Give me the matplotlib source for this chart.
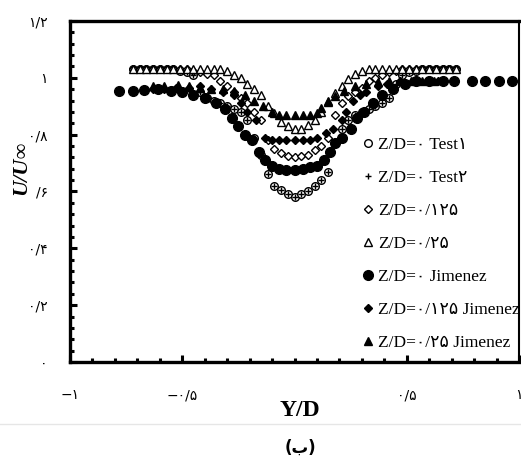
import matplotlib
matplotlib.use("Agg")
import matplotlib.pyplot as plt
from matplotlib.ticker import MultipleLocator, FixedLocator

# ---------------- data ----------------
x_exp = [-0.72, -0.69, -0.66, -0.63, -0.60, -0.57, -0.54, -0.51, -0.48, -0.45,
         -0.42, -0.39, -0.36, -0.33, -0.30, -0.27, -0.24, -0.21, -0.18, -0.15,
         -0.12, -0.09, -0.06, -0.03, 0.00, 0.03, 0.06, 0.09, 0.12, 0.15,
         0.18, 0.21, 0.24, 0.27, 0.30, 0.33, 0.36, 0.39, 0.42, 0.45,
         0.48, 0.51, 0.54, 0.57, 0.60, 0.63, 0.66, 0.69, 0.72]

y_test1 = [1.03, 1.03, 1.03, 1.03, 1.03, 1.03, 1.03, 1.025, 1.02, 1.01,
           0.95, 0.93, 0.92, 0.91, 0.90, 0.89, 0.88, 0.85, 0.79, 0.73,
           0.66, 0.62, 0.605, 0.59, 0.58, 0.59, 0.60, 0.62, 0.64, 0.67,
           0.77, 0.82, 0.85, 0.87, 0.88, 0.89, 0.90, 0.91, 0.93, 0.98,
           1.01, 1.02, 1.025, 1.03, 1.03, 1.03, 1.03, 1.03, 1.03]

y_test2 = [1.03, 1.03, 1.03, 1.03, 1.03, 1.03, 1.03, 1.025, 1.02, 1.01,
           0.95, 0.93, 0.92, 0.91, 0.90, 0.89, 0.88, 0.85, 0.79, 0.73,
           0.66, 0.62, 0.605, 0.59, 0.58, 0.59, 0.60, 0.62, 0.64, 0.67,
           0.77, 0.82, 0.85, 0.87, 0.88, 0.89, 0.90, 0.91, 0.93, 0.98,
           1.01, 1.02, 1.025, 1.03, 1.03, 1.03, 1.03, 1.03, 1.03]

y_z0125 = [1.03, 1.03, 1.03, 1.03, 1.03, 1.03, 1.03, 1.03, 1.03, 1.025,
           1.02, 1.015, 1.01, 0.99, 0.97, 0.95, 0.93, 0.91, 0.88, 0.85,
           0.78, 0.75, 0.735, 0.725, 0.72, 0.725, 0.73, 0.745, 0.76, 0.79,
           0.87, 0.91, 0.935, 0.95, 0.965, 0.99, 1.0, 1.01, 1.02, 1.025,
           1.03, 1.03, 1.03, 1.03, 1.03, 1.03, 1.03, 1.03, 1.03]

y_z025 = [1.03, 1.03, 1.03, 1.03, 1.03, 1.03, 1.03, 1.03, 1.03, 1.03,
          1.03, 1.03, 1.03, 1.03, 1.025, 1.01, 1.0, 0.98, 0.96, 0.94,
          0.90, 0.875, 0.845, 0.83, 0.82, 0.82, 0.835, 0.85, 0.88, 0.915,
          0.945, 0.97, 0.995, 1.015, 1.025, 1.03, 1.03, 1.03, 1.03, 1.03,
          1.03, 1.03, 1.03, 1.03, 1.03, 1.03, 1.03, 1.03, 1.03]

x_jim0 = [-0.78, -0.72, -0.67, -0.61, -0.55, -0.50, -0.45, -0.40, -0.35, -0.31,
          -0.28, -0.25, -0.22, -0.19, -0.16, -0.13, -0.10, -0.07, -0.04, 0.00,
          0.04, 0.07, 0.10, 0.13, 0.16, 0.18, 0.21, 0.25, 0.28, 0.31,
          0.35, 0.39, 0.44, 0.49, 0.54, 0.60, 0.66, 0.71, 0.79, 0.85,
          0.91, 0.97]
y_jim0 = [0.955, 0.955, 0.958, 0.96, 0.955, 0.95, 0.94, 0.93, 0.91, 0.89,
          0.86, 0.83, 0.80, 0.78, 0.74, 0.71, 0.69, 0.68, 0.677, 0.677,
          0.68, 0.685, 0.69, 0.71, 0.74, 0.77, 0.79, 0.82, 0.86, 0.88,
          0.91, 0.94, 0.96, 0.98, 0.99, 0.99, 0.99, 0.99, 0.99, 0.99,
          0.99, 0.99]

x_jim0125 = [-0.63, -0.58, -0.53, -0.47, -0.42, -0.37, -0.32, -0.27, -0.24, -0.21,
             -0.17, -0.13, -0.10, -0.07, -0.04, 0.00, 0.04, 0.07, 0.10, 0.14,
             0.17, 0.21, 0.23, 0.26, 0.29, 0.32, 0.37, 0.41, 0.47, 0.53,
             0.59, 0.64]
y_jim0125 = [0.96, 0.96, 0.965, 0.965, 0.97, 0.96, 0.95, 0.94, 0.91, 0.88,
             0.85, 0.79, 0.78, 0.78, 0.78, 0.78, 0.78, 0.78, 0.79, 0.805,
             0.82, 0.85, 0.88, 0.92, 0.94, 0.95, 0.97, 0.98, 0.99, 0.99,
             0.99, 0.99]

x_jim025 = [-0.63, -0.58, -0.52, -0.47, -0.42, -0.37, -0.32, -0.27, -0.22, -0.18,
            -0.14, -0.10, -0.07, -0.04, 0.00, 0.04, 0.07, 0.10, 0.12, 0.15,
            0.18, 0.22, 0.27, 0.32, 0.37, 0.42, 0.47, 0.52, 0.57, 0.62]
y_jim025 = [0.97, 0.97, 0.975, 0.97, 0.965, 0.96, 0.96, 0.955, 0.94, 0.92,
            0.90, 0.88, 0.87, 0.87, 0.87, 0.87, 0.87, 0.875, 0.895, 0.92,
            0.935, 0.955, 0.97, 0.98, 0.985, 0.99, 0.99, 0.99, 0.99, 0.99]

labels = ["Z/D=\u0660 Test\u0661",
          "Z/D=\u0660 Test\u06F2",
          "Z/D=\u0660/\u0661\u06F2\u06F5",
          "Z/D=\u0660/\u06F2\u06F5",
          "Z/D=\u0660 Jimenez",
          "Z/D=\u0660/\u0661\u06F2\u06F5 Jimenez",
          "Z/D=\u0660/\u06F2\u06F5 Jimenez"]

xticks = [-1, -0.5, 0.5, 1]
xticklabels = ["\u2212\u0661", "\u2212\u0660/\u06F5", "\u0660/\u06F5", "\u0661"]
yticks = [0, 0.2, 0.4, 0.6, 0.8, 1.0, 1.2]
yticklabels = ["\u0660", "\u0660/\u06F2", "\u0660/\u06F4", "/\u06F6",
               "\u0660/\u06F8", "\u0661", "\u0661/\u06F2"]

# ---------------- figure ----------------
fig = plt.figure(figsize=(5.21, 4.63), dpi=100)
ax = fig.add_axes([70 / 521, 101 / 463, 449 / 521, 341 / 463])

k = dict(linestyle="none", markeredgecolor="black", markeredgewidth=1.0)
ax.plot(x_exp, y_test1, marker="o", ms=5.5, mfc="white", label=labels[0], **k)
ax.plot(x_exp, y_test2, marker="+", ms=5, color="black", label=labels[1], **k)
ax.plot(x_exp, y_z0125, marker="D", ms=4, mfc="white", label=labels[2], **k)
ax.plot(x_exp, y_z025, marker="^", ms=5.5, mfc="white", label=labels[3], **k)
ax.plot(x_jim0, y_jim0, marker="o", ms=7, mfc="black", label=labels[4], **k)
ax.plot(x_jim0125, y_jim0125, marker="D", ms=4.5, mfc="black", label=labels[5], **k)
ax.plot(x_jim025, y_jim025, marker="^", ms=6, mfc="black", label=labels[6], **k)

ax.set_xlim(-1, 1)
ax.set_ylim(0, 1.2)

for s in ["left", "bottom", "top"]:
    ax.spines[s].set_linewidth(2.4)
ax.spines["right"].set_linewidth(1.5)

ax.xaxis.set_major_locator(FixedLocator(xticks))
ax.xaxis.set_minor_locator(MultipleLocator(0.1))
ax.yaxis.set_major_locator(FixedLocator(yticks))
ax.yaxis.set_minor_locator(MultipleLocator(0.04))
ax.set_xticklabels(xticklabels, family=["DejaVu Sans"], fontsize=10)
ax.set_yticklabels(yticklabels, family=["DejaVu Sans"], fontsize=10)
ax.tick_params(which="major", direction="in", length=5, width=2.2, top=False, right=False)
ax.tick_params(which="minor", direction="in", length=3, width=2.2, top=False, right=False)
ax.tick_params(axis="x", which="major", pad=19)
ax.tick_params(axis="y", which="major", pad=16)

fig.text(300 / 521, 1 - 410 / 463, "Y/D", ha="center", va="center",
         family=["Liberation Serif"], fontweight="bold", fontsize=17)
fig.text(21 / 521, 1 - 168 / 463, "U/U\u221e", ha="center", va="center", rotation=90,
         family=["Liberation Serif", "DejaVu Sans"], fontweight="bold", style="italic",
         fontsize=16)
fig.text(300 / 521, 1 - 448 / 463, "(\u0628)", ha="center", va="center",
         family=["DejaVu Sans"], fontweight="bold", fontsize=12)
fig.add_artist(plt.Line2D([0, 1], [1 - 424 / 463, 1 - 424 / 463],
                          transform=fig.transFigure, color="#e6e6e6", lw=1))

leg = ax.legend(loc="upper left", bbox_to_anchor=(0.655, 0.66), frameon=False,
                handlelength=0.5, handletextpad=0.3, labelspacing=0.97,
                borderaxespad=0, borderpad=0,
                prop={"family": ["Liberation Serif", "DejaVu Sans"], "size": 12.5})

fig.savefig("out.png", dpi=100)
